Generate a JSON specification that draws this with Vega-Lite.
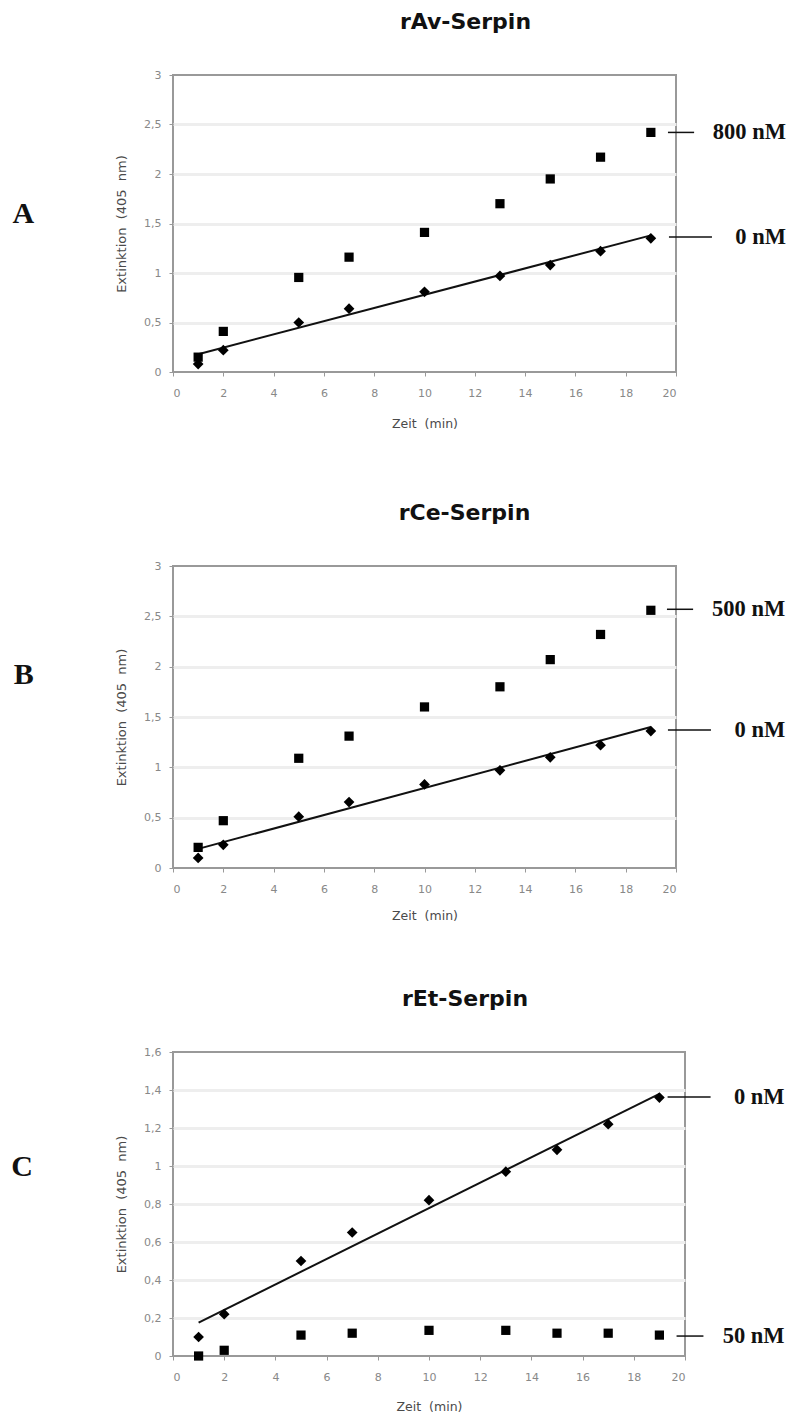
{
  "$schema": "https://vega.github.io/schema/vega-lite/v6.json",
  "background": "white",
  "padding": {"left": 10, "top": 10, "right": 0, "bottom": 0},
  "spacing": 64,
  "config": {
    "font": "DejaVu Sans",
    "view": {"stroke": "#999", "strokeWidth": 2},
    "axis": {
      "domain": false,
      "labelFont": "DejaVu Sans",
      "labelFontSize": 11,
      "labelColor": "#888",
      "labelOverlap": false,
      "tickCount": 30,
      "titleFont": "DejaVu Sans",
      "titleFontSize": 12.5,
      "titleFontWeight": "normal",
      "titleColor": "#4a4a4a",
      "tickColor": "#999",
      "tickSize": 4,
      "tickWidth": 1
    },
    "axisX": {"grid": false, "labelPadding": 11, "titlePadding": 18, "format": "d"},
    "axisY": {
      "grid": true,
      "gridColor": "#eee",
      "gridWidth": 3,
      "labelPadding": 8,
      "titlePadding": 15,
      "titleFontSize": 13
    },
    "title": {
      "font": "DejaVu Sans",
      "fontSize": 22,
      "fontWeight": "bold",
      "color": "#111",
      "anchor": "middle",
      "offset": 35
    }
  },
  "datasets": {
    "A": [
      {"t": 1, "ext": 0.15, "serpin_nM": 800}, {"t": 2, "ext": 0.41, "serpin_nM": 800},
      {"t": 5, "ext": 0.955, "serpin_nM": 800}, {"t": 7, "ext": 1.16, "serpin_nM": 800},
      {"t": 10, "ext": 1.41, "serpin_nM": 800}, {"t": 13, "ext": 1.70, "serpin_nM": 800},
      {"t": 15, "ext": 1.95, "serpin_nM": 800}, {"t": 17, "ext": 2.17, "serpin_nM": 800},
      {"t": 19, "ext": 2.42, "serpin_nM": 800},
      {"t": 1, "ext": 0.08, "serpin_nM": 0}, {"t": 2, "ext": 0.22, "serpin_nM": 0},
      {"t": 5, "ext": 0.50, "serpin_nM": 0}, {"t": 7, "ext": 0.64, "serpin_nM": 0},
      {"t": 10, "ext": 0.81, "serpin_nM": 0}, {"t": 13, "ext": 0.97, "serpin_nM": 0},
      {"t": 15, "ext": 1.08, "serpin_nM": 0}, {"t": 17, "ext": 1.22, "serpin_nM": 0},
      {"t": 19, "ext": 1.35, "serpin_nM": 0}
    ],
    "A_fit": [{"t": 1, "ext": 0.18}, {"t": 19, "ext": 1.38}],
    "B": [
      {"t": 1, "ext": 0.205, "serpin_nM": 500}, {"t": 2, "ext": 0.47, "serpin_nM": 500},
      {"t": 5, "ext": 1.09, "serpin_nM": 500}, {"t": 7, "ext": 1.31, "serpin_nM": 500},
      {"t": 10, "ext": 1.60, "serpin_nM": 500}, {"t": 13, "ext": 1.80, "serpin_nM": 500},
      {"t": 15, "ext": 2.07, "serpin_nM": 500}, {"t": 17, "ext": 2.32, "serpin_nM": 500},
      {"t": 19, "ext": 2.56, "serpin_nM": 500},
      {"t": 1, "ext": 0.10, "serpin_nM": 0}, {"t": 2, "ext": 0.23, "serpin_nM": 0},
      {"t": 5, "ext": 0.51, "serpin_nM": 0}, {"t": 7, "ext": 0.655, "serpin_nM": 0},
      {"t": 10, "ext": 0.83, "serpin_nM": 0}, {"t": 13, "ext": 0.97, "serpin_nM": 0},
      {"t": 15, "ext": 1.10, "serpin_nM": 0}, {"t": 17, "ext": 1.22, "serpin_nM": 0},
      {"t": 19, "ext": 1.36, "serpin_nM": 0}
    ],
    "B_fit": [{"t": 1, "ext": 0.19}, {"t": 19, "ext": 1.40}],
    "C": [
      {"t": 1, "ext": 0.0, "serpin_nM": 50}, {"t": 2, "ext": 0.03, "serpin_nM": 50},
      {"t": 5, "ext": 0.11, "serpin_nM": 50}, {"t": 7, "ext": 0.12, "serpin_nM": 50},
      {"t": 10, "ext": 0.135, "serpin_nM": 50}, {"t": 13, "ext": 0.135, "serpin_nM": 50},
      {"t": 15, "ext": 0.12, "serpin_nM": 50}, {"t": 17, "ext": 0.12, "serpin_nM": 50},
      {"t": 19, "ext": 0.11, "serpin_nM": 50},
      {"t": 1, "ext": 0.10, "serpin_nM": 0}, {"t": 2, "ext": 0.22, "serpin_nM": 0},
      {"t": 5, "ext": 0.50, "serpin_nM": 0}, {"t": 7, "ext": 0.65, "serpin_nM": 0},
      {"t": 10, "ext": 0.82, "serpin_nM": 0}, {"t": 13, "ext": 0.97, "serpin_nM": 0},
      {"t": 15, "ext": 1.085, "serpin_nM": 0}, {"t": 17, "ext": 1.22, "serpin_nM": 0},
      {"t": 19, "ext": 1.36, "serpin_nM": 0}
    ],
    "C_fit": [{"t": 1, "ext": 0.176}, {"t": 19, "ext": 1.38}],
    "one": [{}]
  },
  "vconcat": [
    {
      "title": {"text": "rAv-Serpin", "dx": 41},
      "width": 503,
      "height": 297,
      "layer": [
        {
          "data": {"name": "A_fit"},
          "mark": {"type": "line", "color": "#111", "strokeWidth": 2},
          "encoding": {
            "x": {"field": "t", "type": "quantitative", "scale": {"domain": [0, 20], "nice": false},
                  "axis": {"title": ["Zeit \u00a0(min)", ""], "titleLineHeight": 6, "titlePadding": 19, "values": [0, 2, 4, 6, 8, 10, 12, 14, 16, 18, 20]}},
            "y": {"field": "ext", "type": "quantitative", "scale": {"domain": [0, 3], "nice": false},
                  "axis": {"title": "Extinktion \u00a0(405 \u00a0nm)", "values": [0, 0.5, 1, 1.5, 2, 2.5, 3], "format": "~g",
                           "labelExpr": "replace(datum.label, '.', ',')",
                           "gridOpacity": {"condition": {"test": "datum.value === 0 || datum.value === 3", "value": 0}, "value": 1}}}
          }
        },
        {
          "data": {"name": "A"},
          "mark": {"type": "point", "filled": true, "opacity": 1, "color": "#000"},
          "encoding": {
            "x": {"field": "t", "type": "quantitative"},
            "y": {"field": "ext", "type": "quantitative"},
            "shape": {"condition": {"test": "datum.serpin_nM > 0", "value": "square"}, "value": "diamond"},
            "size": {"condition": {"test": "datum.serpin_nM > 0", "value": 85}, "value": 115}
          }
        },
        {"data": {"name": "one"}, "mark": {"type": "rule", "color": "#111", "strokeWidth": 1.5},
         "encoding": {"x": {"datum": 19.68}, "x2": {"datum": 20.72}, "y": {"datum": 2.42}}},
        {"data": {"name": "one"}, "mark": {"type": "rule", "color": "#111", "strokeWidth": 1.5},
         "encoding": {"x": {"datum": 19.72}, "x2": {"datum": 21.43}, "y": {"datum": 1.364}}},
        {"data": {"name": "one"}, "mark": {"type": "text", "font": "Liberation Serif", "fontWeight": "bold", "fontSize": 22.5, "align": "right", "baseline": "middle", "color": "#111"},
         "encoding": {"x": {"datum": 24.37}, "y": {"datum": 2.42}, "text": {"value": "800 nM"}}},
        {"data": {"name": "one"}, "mark": {"type": "text", "font": "Liberation Serif", "fontWeight": "bold", "fontSize": 22.5, "align": "right", "baseline": "middle", "color": "#111"},
         "encoding": {"x": {"datum": 24.37}, "y": {"datum": 1.364}, "text": {"value": "0 nM"}}},
        {"data": {"name": "one"}, "mark": {"type": "text", "font": "Liberation Serif", "fontWeight": "bold", "fontSize": 30, "align": "center", "baseline": "middle", "color": "#111"},
         "encoding": {"x": {"datum": -5.95}, "y": {"datum": 1.6}, "text": {"value": "A"}}}
      ]
    },
    {
      "title": {"text": "rCe-Serpin", "dx": 40},
      "width": 503,
      "height": 302,
      "layer": [
        {
          "data": {"name": "B_fit"},
          "mark": {"type": "line", "color": "#111", "strokeWidth": 2},
          "encoding": {
            "x": {"field": "t", "type": "quantitative", "scale": {"domain": [0, 20], "nice": false},
                  "axis": {"title": "Zeit \u00a0(min)", "titlePadding": 15, "values": [0, 2, 4, 6, 8, 10, 12, 14, 16, 18, 20]}},
            "y": {"field": "ext", "type": "quantitative", "scale": {"domain": [0, 3], "nice": false},
                  "axis": {"title": "Extinktion \u00a0(405 \u00a0nm)", "values": [0, 0.5, 1, 1.5, 2, 2.5, 3], "format": "~g",
                           "labelExpr": "replace(datum.label, '.', ',')",
                           "gridOpacity": {"condition": {"test": "datum.value === 0 || datum.value === 3", "value": 0}, "value": 1}}}
          }
        },
        {
          "data": {"name": "B"},
          "mark": {"type": "point", "filled": true, "opacity": 1, "color": "#000"},
          "encoding": {
            "x": {"field": "t", "type": "quantitative"},
            "y": {"field": "ext", "type": "quantitative"},
            "shape": {"condition": {"test": "datum.serpin_nM > 0", "value": "square"}, "value": "diamond"},
            "size": {"condition": {"test": "datum.serpin_nM > 0", "value": 85}, "value": 115}
          }
        },
        {"data": {"name": "one"}, "mark": {"type": "rule", "color": "#111", "strokeWidth": 1.5},
         "encoding": {"x": {"datum": 19.64}, "x2": {"datum": 20.68}, "y": {"datum": 2.57}}},
        {"data": {"name": "one"}, "mark": {"type": "rule", "color": "#111", "strokeWidth": 1.5},
         "encoding": {"x": {"datum": 19.68}, "x2": {"datum": 21.39}, "y": {"datum": 1.37}}},
        {"data": {"name": "one"}, "mark": {"type": "text", "font": "Liberation Serif", "fontWeight": "bold", "fontSize": 22.5, "align": "right", "baseline": "middle", "color": "#111"},
         "encoding": {"x": {"datum": 24.34}, "y": {"datum": 2.57}, "text": {"value": "500 nM"}}},
        {"data": {"name": "one"}, "mark": {"type": "text", "font": "Liberation Serif", "fontWeight": "bold", "fontSize": 22.5, "align": "right", "baseline": "middle", "color": "#111"},
         "encoding": {"x": {"datum": 24.34}, "y": {"datum": 1.37}, "text": {"value": "0 nM"}}},
        {"data": {"name": "one"}, "mark": {"type": "text", "font": "Liberation Serif", "fontWeight": "bold", "fontSize": 30, "align": "center", "baseline": "middle", "color": "#111"},
         "encoding": {"x": {"datum": -5.93}, "y": {"datum": 1.92}, "text": {"value": "B"}}}
      ]
    },
    {
      "title": {"text": "rEt-Serpin", "dx": 36},
      "width": 512,
      "height": 304,
      "layer": [
        {
          "data": {"name": "C_fit"},
          "mark": {"type": "line", "color": "#111", "strokeWidth": 2},
          "encoding": {
            "x": {"field": "t", "type": "quantitative", "scale": {"domain": [0, 20], "nice": false},
                  "axis": {"title": "Zeit \u00a0(min)", "titlePadding": 18, "values": [0, 2, 4, 6, 8, 10, 12, 14, 16, 18, 20]}},
            "y": {"field": "ext", "type": "quantitative", "scale": {"domain": [0, 1.6], "nice": false},
                  "axis": {"title": "Extinktion \u00a0(405 \u00a0nm)", "values": [0, 0.2, 0.4, 0.6, 0.8, 1, 1.2, 1.4, 1.6], "format": "~g",
                           "labelExpr": "replace(datum.label, '.', ',')",
                           "gridOpacity": {"condition": {"test": "datum.value === 0 || datum.value === 1.6", "value": 0}, "value": 1}}}
          }
        },
        {
          "data": {"name": "C"},
          "mark": {"type": "point", "filled": true, "opacity": 1, "color": "#000"},
          "encoding": {
            "x": {"field": "t", "type": "quantitative"},
            "y": {"field": "ext", "type": "quantitative"},
            "shape": {"condition": {"test": "datum.serpin_nM > 0", "value": "square"}, "value": "diamond"},
            "size": {"condition": {"test": "datum.serpin_nM > 0", "value": 85}, "value": 115}
          }
        },
        {"data": {"name": "one"}, "mark": {"type": "rule", "color": "#111", "strokeWidth": 1.5},
         "encoding": {"x": {"datum": 19.32}, "x2": {"datum": 21.0}, "y": {"datum": 1.363}}},
        {"data": {"name": "one"}, "mark": {"type": "rule", "color": "#111", "strokeWidth": 1.5},
         "encoding": {"x": {"datum": 19.67}, "x2": {"datum": 20.72}, "y": {"datum": 0.105}}},
        {"data": {"name": "one"}, "mark": {"type": "text", "font": "Liberation Serif", "fontWeight": "bold", "fontSize": 22.5, "align": "right", "baseline": "middle", "color": "#111"},
         "encoding": {"x": {"datum": 23.89}, "y": {"datum": 1.363}, "text": {"value": "0 nM"}}},
        {"data": {"name": "one"}, "mark": {"type": "text", "font": "Liberation Serif", "fontWeight": "bold", "fontSize": 22.5, "align": "right", "baseline": "middle", "color": "#111"},
         "encoding": {"x": {"datum": 23.89}, "y": {"datum": 0.105}, "text": {"value": "50 nM"}}},
        {"data": {"name": "one"}, "mark": {"type": "text", "font": "Liberation Serif", "fontWeight": "bold", "fontSize": 30, "align": "center", "baseline": "middle", "color": "#111"},
         "encoding": {"x": {"datum": -5.9}, "y": {"datum": 0.995}, "text": {"value": "C"}}}
      ]
    }
  ]
}
